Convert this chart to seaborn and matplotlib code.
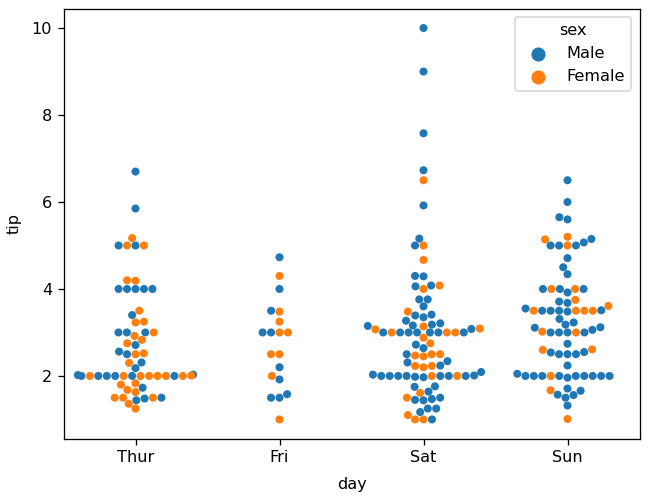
import matplotlib
matplotlib.use("Agg")
import matplotlib.pyplot as plt
import seaborn as sns
import pandas as pd

days = ["Thur", "Fri", "Sat", "Sun"]
sexes = ["Male", "Female"]

# Records in their original order, grouped into runs that share one day.
# Each run: (day, tips, sex codes M/F)
runs = [
    ("Sun", [1.01, 1.66, 3.5, 3.31, 3.61, 4.71, 2.0, 3.12, 1.96, 3.23, 1.71, 5.0, 1.57, 3.0, 3.02, 3.92, 1.67, 3.71, 3.5],
     "FMMMFMMMMMMFMMFMFMF"),
    ("Sat", [3.35, 4.08, 2.75, 2.23, 7.58, 3.18, 2.34, 2.0, 2.0, 4.3, 3.0, 1.45, 2.5, 3.0, 2.45, 3.27, 3.6, 2.0, 3.07, 2.31, 5.0, 2.24],
     "MMFFMMMMMMFMMFFMMMFMMM"),
    ("Sun", [2.54, 3.06, 1.32, 5.6, 3.0, 5.0, 6.0, 2.05, 3.0, 2.5, 2.6, 5.2, 1.56, 4.34, 3.51],
     "MMMMMMMMMMFFMMM"),
    ("Sat", [3.0, 1.5, 1.76, 6.73, 3.21, 2.0, 1.98, 3.76, 2.64, 3.15, 2.47, 1.0, 2.01, 2.09, 1.97, 3.0, 3.14, 5.0, 2.2, 1.25, 3.08],
     "MFMMMMMMMMFFMMMFFFFMM"),
    ("Thur", [4.0, 3.0, 2.71, 3.0, 3.4, 1.83, 5.0, 2.03, 5.17, 2.0, 4.0, 5.85, 3.0],
     "MMMMMFMMFMMMM"),
    ("Fri", [3.0, 3.5, 1.0, 4.3, 3.25, 4.73, 4.0, 1.5, 3.0, 1.5, 2.5, 3.0],
     "MMFFFMMMMMFF"),
    ("Sat", [2.5, 3.48, 4.08, 1.64, 4.06, 4.29, 3.76, 4.0, 3.0, 1.0],
     "FFFMMMMFMF"),
    ("Sun", [4.0, 2.55, 4.0, 3.5, 5.07],
     "MMFFM"),
    ("Thur", [1.5, 1.8, 2.92, 2.31, 1.68, 2.5, 2.0, 2.52, 4.2, 1.48, 2.0, 2.0, 2.18, 1.5, 2.83, 1.5, 2.0,
              3.25, 1.25, 2.0, 2.0, 2.0, 2.75, 3.5, 6.7, 5.0, 5.0, 2.3, 1.5, 1.36, 1.63, 1.73, 2.0],
     "FFFMFMMFFMFFMMFFFFFFFMFFMMFFFFFMM"),
    ("Sun", [2.5, 2.0, 2.74, 2.0, 2.0, 5.14, 5.0, 3.75, 2.61, 2.0, 3.5, 2.5, 2.0, 2.0, 3.0, 3.48, 2.24, 4.5],
     "MMMMMFMFFMMMFMFMMM"),
    ("Sat", [1.61, 2.0, 10.0, 3.16],
     "FFMM"),
    ("Sun", [5.15, 3.18, 4.0, 3.11, 2.0, 2.0, 4.0, 3.55, 3.68, 5.65, 3.5, 6.5, 3.0, 5.0, 3.5, 2.0, 3.5, 4.0, 1.5],
     "MMMMMMFMMMMMMMFMFMM"),
    ("Thur", [4.19, 2.56, 2.02, 4.0, 1.44, 2.0, 5.0, 2.0, 2.0, 4.0, 2.01, 2.0, 2.5, 4.0, 3.23],
     "FMMMMMFFMMFFFMF"),
    ("Sat", [3.41, 3.0, 2.03, 2.23, 2.0, 5.16, 9.0, 2.5, 6.5, 1.1, 3.0, 1.5, 1.44, 3.09],
     "MMMFMMMFFFMMMF"),
    ("Fri", [2.2, 3.48, 1.92, 3.0, 1.58, 2.5, 2.0],
     "MFMFMFF"),
    ("Sat", [3.0, 2.72, 2.88, 2.0, 3.0, 3.39, 1.47, 3.0, 1.25, 1.0, 1.17, 4.67, 5.92, 2.0, 2.0, 1.75],
     "MMFMMMMMMMMFMFMM"),
    ("Thur", [3.0],
     "F"),
]

sex_names = {"M": "Male", "F": "Female"}
tip, day, sex = [], [], []
for d, tips, codes in runs:
    assert len(tips) == len(codes), (d, len(tips), len(codes))
    tip.extend(tips)
    day.extend([d] * len(tips))
    sex.extend(sex_names[c] for c in codes)

df = pd.DataFrame({"tip": tip, "day": day, "sex": sex})
df["day"] = pd.Categorical(df["day"], categories=days)
df["sex"] = pd.Categorical(df["sex"], categories=sexes)

W, H = 650, 497
DPI = 116
fig = plt.figure(figsize=(W / DPI, H / DPI), dpi=DPI)
ax = fig.add_axes([63.5 / W, 1 - 439 / H, 576 / W, 430.5 / H])
sns.swarmplot(data=df, x="day", y="tip", hue="sex", order=days, hue_order=sexes,
              ax=ax, legend=False)
xlim = ax.get_xlim()
ylim = ax.get_ylim()
palette = sns.color_palette()
for i, s in enumerate(sexes):
    ax.scatter([], [], s=60, color=palette[i], label=s)
ax.set_xlim(xlim)
ax.set_ylim(ylim)
ax.legend(loc="upper right", title="sex")
ax.set_yticks([2, 4, 6, 8, 10])
ax.set_xlabel("day", labelpad=7)
ax.set_ylabel("tip", labelpad=6.5)
fig.savefig("out.png", dpi=DPI)
